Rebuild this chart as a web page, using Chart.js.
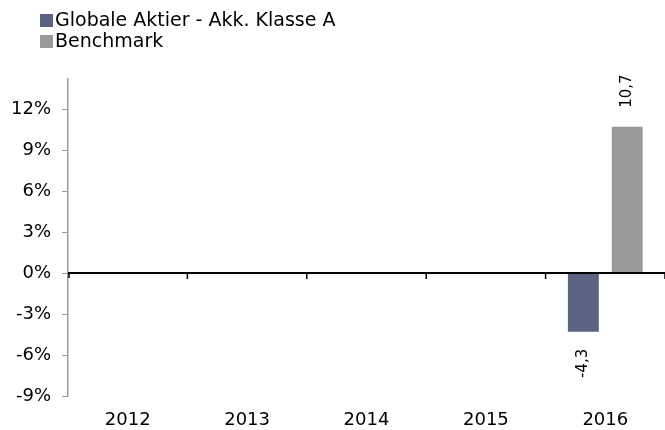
<!DOCTYPE html>
<html>
<head>
<meta charset="utf-8">
<script src="https://cdn.jsdelivr.net/npm/chart.js@4"></script>
<style>
  html, body { margin: 0; padding: 0; background: #fff; }
  #wrap { width: 665px; height: 430px; }
</style>
</head>
<body>
<div id="wrap"><canvas id="chart" width="665" height="430"></canvas></div>
<script>
// data
const years = ["2012", "2013", "2014", "2015", "2016"];
const fundReturns = [null, null, null, null, -4.3];
const benchmarkReturns = [null, null, null, null, 10.7];
const seriesNames = ["Globale Aktier - Akk. Klasse A", "Benchmark"];
const yTicks = [-9, -6, -3, 0, 3, 6, 9, 12];

const fundColor = "#5a6381";
const benchColor = "#999999";
const fontFamily = "'DejaVu Sans', Verdana, sans-serif";

// legend drawn in the top left corner, stacked
const legendPlugin = {
  id: "stackedLegend",
  afterDraw(chart) {
    const ctx = chart.ctx;
    ctx.save();
    ctx.font = "19px " + fontFamily;
    ctx.textBaseline = "middle";
    chart.data.datasets.forEach((ds, i) => {
      const y = 20 + i * 21;
      ctx.fillStyle = ds.backgroundColor;
      ctx.fillRect(40, y - 6, 13, 13);
      ctx.fillStyle = "#000";
      ctx.fillText(ds.label, 55, y + 1);
    });
    ctx.restore();
  }
};

// zero line with category tick marks, and rotated value labels
const axisAndLabels = {
  id: "axisAndLabels",
  afterDatasetsDraw(chart) {
    const ctx = chart.ctx;
    const x = chart.scales.x;
    const y = chart.scales.y;
    const area = chart.chartArea;
    const y0 = y.getPixelForValue(0);
    ctx.save();
    ctx.strokeStyle = "#000";
    ctx.lineWidth = 2;
    ctx.beginPath();
    ctx.moveTo(area.left, y0);
    ctx.lineTo(area.right, y0);
    ctx.stroke();
    const half = (x.getPixelForValue(1) - x.getPixelForValue(0)) / 2;
    ctx.lineWidth = 1.5;
    ctx.beginPath();
    for (let i = 0; i < years.length; i++) {
      const bx = x.getPixelForValue(i) + half;
      ctx.moveTo(bx, y0);
      ctx.lineTo(bx, y0 + 6);
    }
    ctx.moveTo(area.left + 1, y0);
    ctx.lineTo(area.left + 1, y0 + 5);
    ctx.stroke();

    ctx.font = "15px " + fontFamily;
    ctx.fillStyle = "#000";
    ctx.textBaseline = "middle";
    chart.data.datasets.forEach((ds, di) => {
      const meta = chart.getDatasetMeta(di);
      meta.data.forEach((bar, i) => {
        const v = ds.data[i];
        if (v === null) return;
        const txt = v.toFixed(1).replace(".", ",");
        ctx.save();
        ctx.translate(bar.x, bar.y);
        ctx.rotate(-Math.PI / 2);
        if (v >= 0) {
          ctx.textAlign = "left";
          ctx.fillText(txt, 19, 0);
        } else {
          ctx.textAlign = "right";
          ctx.fillText(txt, -17, 0);
        }
        ctx.restore();
      });
    });
    ctx.restore();
  }
};

new Chart(document.getElementById("chart"), {
  type: "bar",
  data: {
    labels: years,
    datasets: [
      { label: seriesNames[0], data: fundReturns, backgroundColor: fundColor },
      { label: seriesNames[1], data: benchmarkReturns, backgroundColor: benchColor }
    ]
  },
  options: {
    responsive: false,
    animation: false,
    categoryPercentage: 0.735,
    barPercentage: 0.705,
    layout: { padding: { top: 79, right: 0, left: 0, bottom: 0 } },
    plugins: { legend: { display: false }, tooltip: { enabled: false } },
    scales: {
      x: {
        grid: { display: false, drawTicks: false },
        border: { display: false },
        ticks: { color: "#000", font: { family: fontFamily, size: 18 }, padding: 14, maxRotation: 0 },
        afterFit(scale) { scale.height = 34; }
      },
      y: {
        min: -9,
        max: 14.2,
        afterBuildTicks(scale) { scale.ticks = yTicks.map(v => ({ value: v })); },
        grid: { drawOnChartArea: false, drawTicks: true, tickLength: 6, color: "#999", lineWidth: 1 },
        border: { display: true, color: "#999", width: 1.5 },
        ticks: {
          color: "#000",
          font: { family: fontFamily, size: 18 },
          padding: 11,
          callback: v => v + "%"
        },
        afterFit(scale) { scale.width = 68; }
      }
    }
  },
  plugins: [legendPlugin, axisAndLabels]
});
</script>
</body>
</html>
